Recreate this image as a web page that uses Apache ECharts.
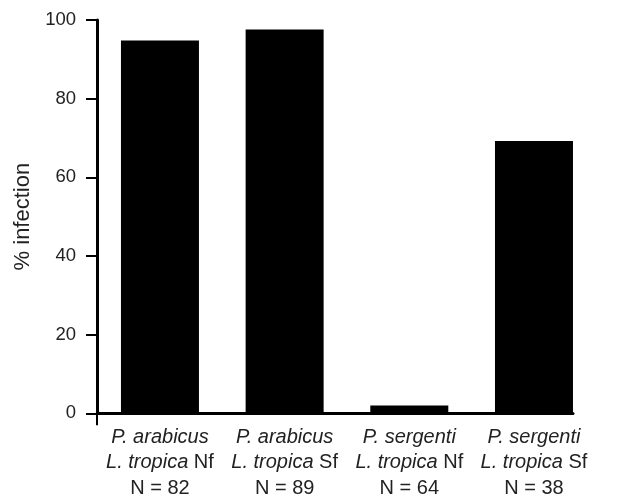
<!DOCTYPE html>
<html>
<head>
<meta charset="utf-8">
<script src="https://cdn.jsdelivr.net/npm/echarts@6/dist/echarts.min.js"></script>
<style>
html,body{margin:0;padding:0;background:#fff;}
#c{width:617px;height:498px;}
</style>
</head>
<body>
<div id="c"></div>
<script>
var species = ['P. arabicus', 'P. arabicus', 'P. sergenti', 'P. sergenti'];
var parasite = ['L. tropica', 'L. tropica', 'L. tropica', 'L. tropica'];
var stage = ['Nf', 'Sf', 'Nf', 'Sf'];
var sampleN = [82, 89, 64, 38];
var infection = [94.8, 97.6, 2.0, 69.2];
var yTicks = [0, 20, 40, 60, 80, 100];

var xMin = -0.505, xMax = 3.313;
var positions = infection.map(function (v, i) { return [i, v]; });

var chart = echarts.init(document.getElementById('c'));
chart.setOption({
  animation: false,
  grid: { left: 97, right: 44, top: 20, bottom: 83, containLabel: false },
  xAxis: {
    type: 'value',
    min: xMin,
    max: xMax,
    splitLine: { show: false },
    axisLine: { show: true, onZero: false, lineStyle: { color: '#000', width: 3 } },
    axisTick: { show: true, customValues: [xMin], length: 12, lineStyle: { color: '#000', width: 2 } },
    axisLabel: {
      customValues: [0, 1, 2, 3],
      margin: 11,
      formatter: function (v) {
        var i = Math.round(v);
        return '{i|' + species[i] + '}\n{i|' + parasite[i] + '}{n| ' + stage[i] + '}\n{n|N = ' + sampleN[i] + '}';
      },
      rich: {
        i: { fontStyle: 'italic', fontFamily: 'Liberation Sans', fontSize: 20, color: '#222', lineHeight: 25.5 },
        n: { fontFamily: 'Liberation Sans', fontSize: 20, color: '#222', lineHeight: 25.5 }
      }
    }
  },
  yAxis: {
    type: 'value',
    min: 0,
    max: 100,
    interval: 20,
    name: '% infection',
    nameLocation: 'middle',
    nameGap: 63,
    nameTextStyle: { fontFamily: 'Liberation Sans', fontSize: 22, color: '#222' },
    splitLine: { show: false },
    axisLine: { show: true, onZero: false, lineStyle: { color: '#000', width: 3 } },
    axisTick: { show: true, length: 11, lineStyle: { color: '#000', width: 2 } },
    axisLabel: {
      margin: 21,
      fontFamily: 'Liberation Sans',
      fontSize: 18.5,
      color: '#222',
      formatter: function (v) { return yTicks.indexOf(v) >= 0 ? String(v) : ''; }
    }
  },
  series: [{
    type: 'bar',
    data: positions,
    barWidth: 78,
    itemStyle: { color: '#000' }
  }]
});
</script>
</body>
</html>
